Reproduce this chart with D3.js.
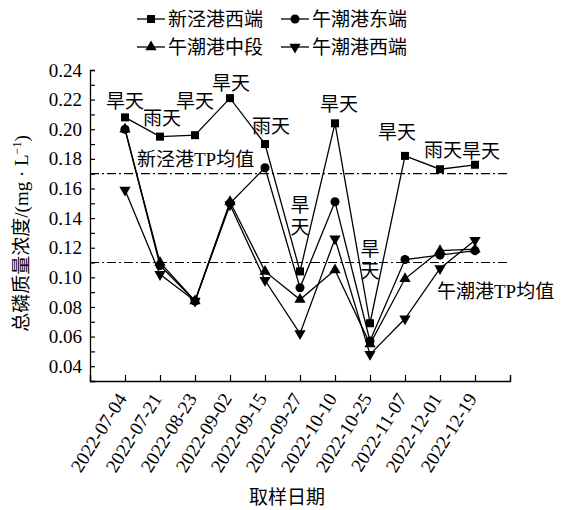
<!DOCTYPE html>
<html>
<head>
<meta charset="utf-8">
<script src="https://cdn.jsdelivr.net/npm/d3@7"></script>
<style>
  body { margin: 0; background: #fff; }
  text { font-family: "Liberation Serif", "Times New Roman", "Noto Sans CJK SC", serif; fill: #000; }
</style>
</head>
<body>
<div id="chart"></div>
<script>
// ==== Data ====
const dates = ["2022-07-04", "2022-07-21", "2022-08-23", "2022-09-02", "2022-09-15", "2022-09-27",
               "2022-10-10", "2022-10-25", "2022-11-07", "2022-12-01", "2022-12-19"];
const xinjingWest = [0.208, 0.195, 0.196, 0.221, 0.190, 0.104, 0.204, 0.069, 0.182, 0.173, 0.176];
const wuchaoEast  = [0.200, 0.108, 0.084, 0.150, 0.174, 0.093, 0.151, 0.057, 0.112, 0.115, 0.118];
const wuchaoMid   = [0.200, 0.110, 0.084, 0.151, 0.104, 0.085, 0.105, 0.055, 0.099, 0.118, 0.119];
const wuchaoWest  = [0.159, 0.102, 0.084, 0.149, 0.098, 0.062, 0.126, 0.048, 0.072, 0.106, 0.125];
const weather = ["旱天", "雨天", "旱天", "旱天", "雨天", "旱天", "旱天", "旱天", "旱天", "雨天", "旱天"];
const seriesNames = ["新泾港西端", "午潮港东端", "午潮港中段", "午潮港西端"];
const meanXinjing = 0.170;
const meanWuchao = 0.110;
const yTicks = [0.04, 0.06, 0.08, 0.10, 0.12, 0.14, 0.16, 0.18, 0.20, 0.22, 0.24];

// ==== Setup ====
const W = 562, H = 510;
const svg = d3.select("#chart").append("svg").attr("width", W).attr("height", H);

const x = d3.scaleLinear().domain([0, dates.length + 1]).range([90, 510]);
const y = d3.scaleLinear().domain([0.03, 0.24]).range([381, 70]);

const fs = 19;

// axes
const xAxis = d3.axisBottom(x)
  .tickValues(d3.range(0, dates.length + 2))
  .tickSize(-6)
  .tickFormat("");
svg.append("g").attr("class", "x-axis")
  .attr("transform", `translate(0,${y(0.03)})`)
  .call(xAxis);

const minorY = d3.range(3, 25).map(d => d / 100);
const yAxis = d3.axisLeft(y)
  .tickValues(minorY)
  .tickSize(-5)
  .tickPadding(8)
  .tickFormat(d => yTicks.some(t => Math.abs(t - d) < 1e-9) ? d3.format(".2f")(d) : "");
svg.append("g").attr("class", "y-axis")
  .attr("transform", `translate(${x(0)},0)`)
  .call(yAxis);

svg.selectAll(".domain").attr("stroke", "#000").attr("stroke-width", 1.3);
svg.selectAll(".tick line").attr("stroke", "#000").attr("stroke-width", 1.2);
svg.selectAll(".y-axis .tick text").attr("font-size", fs).attr("font-family", "Liberation Serif");

// x labels
svg.append("g").selectAll("text").data(dates).join("text")
  .attr("transform", (d, i) => `translate(${x(i + 1) - 3},${y(0.03) + 14}) rotate(-58)`)
  .attr("text-anchor", "end")
  .attr("dy", "0.35em")
  .attr("font-size", fs)
  .text(d => d);

// axis titles
svg.append("text")
  .attr("x", 287).attr("y", 504)
  .attr("text-anchor", "middle")
  .attr("font-size", fs)
  .text("取样日期");

svg.append("text")
  .attr("transform", `translate(28,${(y(0.03) + y(0.24)) / 2 + 8}) rotate(-90)`)
  .attr("text-anchor", "middle")
  .attr("font-size", fs)
  .html('总磷质量浓度/(mg · L<tspan dy="-7" font-size="12">−1</tspan><tspan dy="7">)</tspan>');

// mean lines
[meanXinjing, meanWuchao].forEach(m => {
  svg.append("line")
    .attr("x1", x(0)).attr("x2", x(dates.length + 1))
    .attr("y1", y(m)).attr("y2", y(m))
    .attr("stroke", "#000").attr("stroke-width", 1.2)
    .attr("stroke-dasharray", "9,3,2,3");
});
svg.append("text").attr("x", 137).attr("y", y(meanXinjing) - 8)
  .attr("font-size", fs).text("新泾港TP均值");
svg.append("text").attr("x", 437).attr("y", y(meanWuchao) + 35)
  .attr("font-size", fs).text("午潮港TP均值");

// ==== Series ====
const symbols = [
  { type: d3.symbolSquare, size: 64, rot: 0 },
  { type: d3.symbolCircle, size: 64, rot: 0 },
  { type: d3.symbolTriangle, size: 55, rot: 0 },
  { type: d3.symbolTriangle, size: 55, rot: 180 }
];
const allSeries = [xinjingWest, wuchaoEast, wuchaoMid, wuchaoWest];

const line = d3.line().x((d, i) => x(i + 1)).y(d => y(d));

// draw from back to front
[3, 2, 1, 0].forEach(k => {
  const g = svg.append("g");
  g.append("path").datum(allSeries[k])
    .attr("d", line).attr("fill", "none")
    .attr("stroke", "#000").attr("stroke-width", 1.3);
  g.selectAll("path.pt").data(allSeries[k]).join("path")
    .attr("class", "pt")
    .attr("d", d3.symbol().type(symbols[k].type).size(symbols[k].size))
    .attr("transform", (d, i) => `translate(${x(i + 1)},${y(d)}) rotate(${symbols[k].rot})`)
    .attr("fill", "#000");
});

// weather labels (offsets relative to 新泾港西端 points)
const labelOffsets = [[0, -16], [2, -18], [0, -34], [1, -15], [6, -18], null,
                      [4, -19], null, [-8, -24], [3, -19], [6, -13]];
weather.forEach((w, i) => {
  const px = x(i + 1), py = y(xinjingWest[i]);
  if (labelOffsets[i]) {
    svg.append("text")
      .attr("x", px + labelOffsets[i][0]).attr("y", py + labelOffsets[i][1])
      .attr("text-anchor", "middle").attr("dy", "0.35em")
      .attr("font-size", fs).text(w);
  } else {
    // vertical labels
    const base = i === 5 ? py - 66 : py - 74;
    [...w].forEach((c, j) => {
      svg.append("text")
        .attr("x", px).attr("y", base + j * 22)
        .attr("text-anchor", "middle").attr("dy", "0.35em")
        .attr("font-size", fs).text(c);
    });
  }
});

// ==== Legend ====
const legend = svg.append("g");
seriesNames.forEach((name, k) => {
  const lx = 137 + (k % 2) * 144;
  const ly = 19 + Math.floor(k / 2) * 28;
  const g = legend.append("g").attr("transform", `translate(${lx},${ly})`);
  g.append("line").attr("x1", 0).attr("x2", 28).attr("y1", 0).attr("y2", 0)
    .attr("stroke", "#000").attr("stroke-width", 1.3);
  g.append("path")
    .attr("d", d3.symbol().type(symbols[k].type).size(symbols[k].size))
    .attr("transform", `translate(14,0) rotate(${symbols[k].rot})`)
    .attr("fill", "#000");
  g.append("text").attr("x", 31).attr("dy", "0.35em")
    .attr("font-size", fs).text(name);
});
</script>
</body>
</html>
